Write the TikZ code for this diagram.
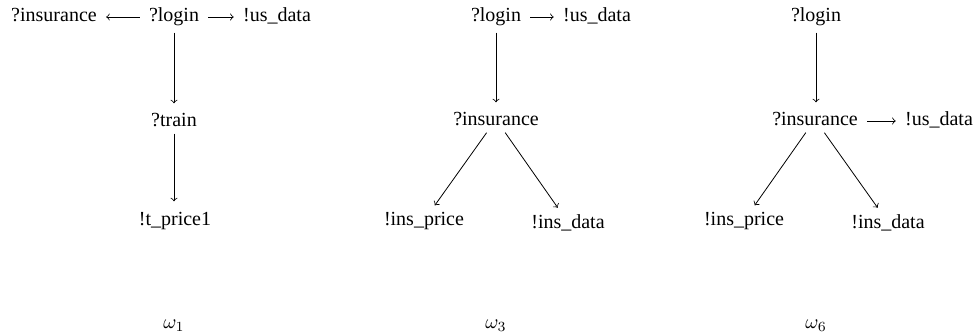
\documentclass[tikz,border=0pt]{standalone}
\usepackage{fontspec}
\setmainfont{Liberation Serif}
\begin{document}
\begin{tikzpicture}[x=0.5pt,y=-0.5pt,
  lbl/.style={anchor=base,inner xsep=4.5pt,inner ysep=3pt,font=\fontsize{10}{12}\selectfont},
  captext/.style={anchor=base,inner sep=0pt,font=\fontsize{10}{12}\selectfont},
  arr/.style={->,line width=0.4pt},
  varr/.style={->,line width=0.4pt,shorten >=2pt}]
\useasboundingbox (0,0) rectangle (977,336);
% panel 1
\node[lbl] (l1) at (174,22) {?login};
\node[lbl] (i1) at (54,22) {?insurance};
\node[lbl] (u1) at (277,22) {!us\_data};
\node[lbl] (t1) at (174,127) {?train};
\node[lbl] (p1) at (175,225) {!t\_price1};
\draw[arr] ([yshift=2.5pt]l1.base west) -- ([yshift=2.5pt]i1.base east);
\draw[arr] ([yshift=2.5pt]l1.base east) -- ([yshift=2.5pt]u1.base west);
\draw[varr] (l1.south) -- (l1.south |- t1.north);
\draw[varr] (t1.south) -- (t1.south |- p1.north);
\node[captext] (w1) at (174,328) {$\omega_1$};
% panel 2
\node[lbl] (l3) at (496,22) {?login};
\node[lbl] (u3) at (597,22) {!us\_data};
\node[lbl] (i3) at (496,126) {?insurance};
\node[lbl] (p3) at (424,225) {!ins\_price};
\node[lbl] (d3) at (568,228) {!ins\_data};
\draw[arr] ([yshift=2.5pt]l3.base east) -- ([yshift=2.5pt]u3.base west);
\draw[varr] (l3.south) -- (l3.south |- i3.north);
\draw[arr] (i3) -- (p3);
\draw[arr] (i3) -- (d3);
\node[captext] (w3) at (496,328) {$\omega_3$};
% panel 3
\node[lbl] (l6) at (816,22) {?login};
\node[lbl] (i6) at (815,126) {?insurance};
\node[lbl] (u6) at (939,126) {!us\_data};
\node[lbl] (p6) at (744,225) {!ins\_price};
\node[lbl] (d6) at (888,228) {!ins\_data};
\draw[arr] ([yshift=2.5pt]i6.base east) -- ([yshift=2.5pt]u6.base west);
\draw[varr] (l6.south) -- (l6.south |- i6.north);
\draw[arr] (i6) -- (p6);
\draw[arr] (i6) -- (d6);
\node[captext] (w6) at (816,328) {$\omega_6$};
\end{tikzpicture}
\end{document}
